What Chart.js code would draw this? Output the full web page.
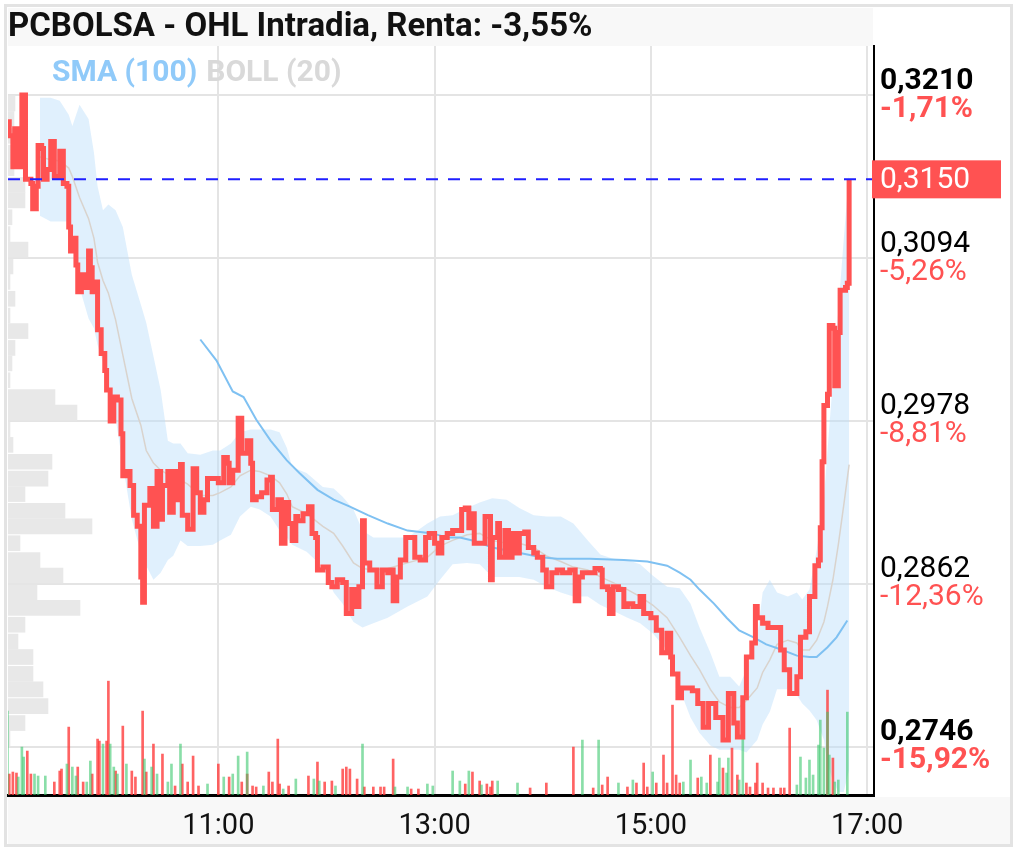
<!DOCTYPE html>
<html lang="es">
<head>
  <meta charset="UTF-8" />
  <title>PCBOLSA - OHL Intradia</title>
  <script src="https://cdn.jsdelivr.net/npm/chart.js"></script>
  <style>
    html, body { margin: 0; padding: 0; background: #fff; }
    #wrap { width: 1017px; height: 851px; }
  </style>
</head>
<body>
  <div id="wrap"><canvas id="ohlChart" width="1017" height="851"></canvas></div>

  <script>
    // times are minutes after 09:00
    const priceMin = [
      3, 4, 6, 7, 9, 11, 12, 13, 16, 17,
      19, 20, 22, 23, 25, 27, 28, 29, 32, 34,
      36, 37, 38, 39, 41, 42, 44, 46, 48, 49,
      50, 52, 53, 55, 57, 58, 60, 62, 64, 66,
      67, 69, 71, 73, 75, 77, 78, 79, 80, 82,
      84, 86, 88, 89, 92, 93, 95, 97, 99, 100,
      103, 105, 106, 108, 110, 112, 114, 117, 120, 123,
      125, 126, 128, 131, 133, 136, 138, 139, 141, 144,
      147, 149, 150, 153, 155, 157, 159, 161, 163, 164,
      167, 170, 172, 174, 175, 178, 181, 183, 186, 189,
      191, 194, 196, 198, 200, 201, 204, 208, 211, 214,
      215, 217, 219, 221, 224, 226, 229, 232, 235, 237,
      240, 242, 244, 247, 250, 252, 255, 257, 259, 261,
      262, 265, 268, 271, 272, 275, 276, 279, 281, 283,
      285, 287, 290, 292, 295, 297, 300, 302, 305, 308,
      311, 315, 318, 320, 322, 326, 329, 332, 333, 336,
      337, 339, 342, 345, 347, 350, 354, 356, 360, 363,
      366, 369, 371, 372, 375, 377, 380, 383, 386, 389,
      392, 396, 398, 400, 403, 406, 408, 411, 413, 416,
      418, 419, 422, 425, 428, 432, 434, 437, 441, 443,
      446, 448, 451, 453, 454, 455, 456, 458, 459, 461,
      462, 464, 465, 468, 469, 470
    ];
    const priceVal = [
      .3191, .3181, .3159, .3186, .3159, .3210, .3210, .3150, .3147, .3129,
      .3145, .3174, .3172, .3150, .3157, .3177, .3177, .3152, .3170, .3147,
      .3145, .3116, .3099, .3108, .3089, .3070, .3082, .3073, .3099, .3087,
      .3070, .3077, .3043, .3026, .3014, .3000, .2978, .2995, .2993, .2969,
      .2939, .2942, .2932, .2911, .2903, .2867, .2849, .2918, .2918, .2930,
      .2903, .2942, .2908, .2932, .2942, .2913, .2942, .2922, .2947, .2911,
      .2901, .2901, .2944, .2927, .2913, .2922, .2937, .2937, .2934, .2952,
      .2948, .2934, .2943, .2980, .2955, .2964, .2948, .2922, .2924, .2927,
      .2936, .2938, .2915, .2922, .2891, .2920, .2905, .2893, .2910, .2907,
      .2912, .2917, .2898, .2895, .2872, .2874, .2863, .2860, .2865, .2863,
      .2841, .2858, .2846, .2860, .2907, .2877, .2872, .2860, .2872, .2870,
      .2872, .2850, .2867, .2879, .2895, .2895, .2881, .2879, .2895, .2898,
      .2891, .2884, .2895, .2898, .2900, .2900, .2915, .2916, .2902, .2912,
      .2891, .2891, .2910, .2865, .2895, .2905, .2881, .2900, .2881, .2898,
      .2884, .2898, .2899, .2888, .2884, .2881, .2872, .2860, .2870, .2872,
      .2870, .2872, .2850, .2867, .2870, .2870, .2873, .2872, .2860, .2858,
      .2841, .2860, .2858, .2846, .2848, .2846, .2853, .2841, .2838, .2829,
      .2813, .2827, .2810, .2798, .2781, .2788, .2788, .2786, .2777, .2760,
      .2777, .2767, .2767, .2751, .2784, .2763, .2753, .2781, .2810, .2820,
      .2846, .2838, .2834, .2831, .2831, .2815, .2801, .2784, .2796, .2824,
      .2828, .2853, .2875, .2879, .2902, .2949, .2989, .2997, .3046, .3044,
      .3003, .3041, .3071, .3073, .3076, .3150
    ];
    const lastPrice = 0.3150;

    // Bollinger (20)
    const bandMin = [
      21, 27, 32, 37, 39, 43, 48, 51, 53, 56,
      59, 63, 67, 72, 77, 80, 84, 88, 92, 95,
      99, 103, 110, 117, 121, 127, 132, 138, 143, 149,
      154, 158, 161, 169, 178, 184, 189, 195, 200, 206,
      214, 225, 236, 243, 250, 258, 265, 272, 280, 287,
      295, 302, 310, 317, 325, 332, 339, 347, 354, 361,
      369, 376, 382, 387, 393, 398, 404, 409, 413, 419,
      422, 426, 430, 436, 441, 444, 448, 452, 456, 458,
      461, 464, 467, 470
    ];
    const bandUp = [
      .3208, .3208, .3206, .3196, .3188, .3203, .3193, .3169, .3145, .3128,
      .3132, .3128, .3116, .3082, .3061, .3048, .3024, .3000, .2964, .2962,
      .2962, .2955, .2954, .2957, .2957, .2962, .2970, .2972, .2972, .2972,
      .2970, .2959, .2945, .2941, .2931, .2930, .2924, .2915, .2900, .2895,
      .2895, .2895, .2905, .2910, .2911, .2916, .2920, .2923, .2922, .2916,
      .2911, .2910, .2910, .2905, .2893, .2883, .2880, .2879, .2876, .2868,
      .2860, .2859, .2848, .2831, .2813, .2796, .2796, .2789, .2801, .2824,
      .2856, .2865, .2856, .2853, .2856, .2851, .2858, .2886, .2922, .2957,
      .3007, .3057, .3107, .3155
    ];
    const bandLow = [
      .3124, .3120, .3120, .3120, .3117, .3073, .3051, .3044, .3032, .3020,
      .3004, .2980, .2947, .2908, .2884, .2875, .2865, .2870, .2879, .2882,
      .2893, .2889, .2889, .2890, .2893, .2897, .2910, .2917, .2915, .2910,
      .2900, .2895, .2890, .2885, .2874, .2856, .2848, .2835, .2831, .2834,
      .2838, .2846, .2853, .2865, .2876, .2877, .2876, .2867, .2867, .2867,
      .2865, .2860, .2856, .2853, .2853, .2847, .2843, .2838, .2834, .2827,
      .2815, .2787, .2767, .2756, .2747, .2744, .2744, .2744, .2742, .2751,
      .2762, .2771, .2787, .2787, .2783, .2777, .2772, .2765, .2751, .2734,
      .2722, .2714, .2714, .2730
    ];
    const bandMid = [
      .3166, .3164, .3163, .3158, .3152, .3137, .3122, .3108, .3091, .3078,
      .3069, .3050, .3025, .2994, .2975, .2957, .2948, .2943, .2940, .2938,
      .2936, .2933, .2925, .2925, .2927, .2931, .2939, .2943, .2942, .2939,
      .2934, .2926, .2917, .2912, .2903, .2898, .2889, .2877, .2873, .2872,
      .2873, .2877, .2881, .2889, .2893, .2897, .2898, .2893, .2891, .2891,
      .2888, .2882, .2878, .2874, .2872, .2867, .2863, .2858, .2853, .2847,
      .2838, .2824, .2811, .2801, .2787, .2778, .2774, .2774, .2779, .2788,
      .2799, .2808, .2819, .2822, .2820, .2815, .2815, .2822, .2835, .2846,
      .2865, .2890, .2918, .2947
    ];

    // SMA (100)
    const smaMin = [
      110, 119, 128, 134, 141, 149, 158, 165, 175, 184,
      193, 203, 214, 225, 239, 247, 254, 261, 272, 284,
      299, 308, 326, 345, 358, 369, 376, 382, 387, 395,
      402, 409, 417, 424, 433, 441, 448, 452, 458, 463,
      469
    ];
    const smaVal = [
      .3036, .3021, .2999, .2995, .2979, .2964, .2950, .2941, .2929, .2922,
      .2917, .2911, .2905, .2900, .2898, .2895, .2895, .2893, .2888, .2885,
      .2881, .2880, .2880, .2879, .2878, .2875, .2870, .2865, .2858, .2848,
      .2838, .2829, .2824, .2819, .2815, .2811, .2810, .2810, .2817, .2824,
      .2836
    ];

    // volume per minute (relative units)
    const volUpMin = [3, 9, 11, 12, 18, 20, 24, 36, 39, 41, 47, 49, 56, 60, 62, 64, 69, 79, 83, 86,
      92, 94, 99, 114, 123, 128, 131, 136, 145, 156, 163, 173, 176, 185, 200, 218, 225, 236, 239, 250,
      254, 259, 266, 275, 286, 322, 331, 342, 350, 361, 378, 382, 388, 391, 397, 398, 402, 403, 409, 411,
      441, 443, 446, 448, 450, 453, 454, 456, 458, 459, 462, 464, 469];
    const volUp = [84, 18, 48, 38, 21, 19, 19, 31, 28, 19, 13, 34, 51, 51, 28, 21, 31, 36, 28, 21,
      13, 31, 51, 11, 18, 21, 39, 43, 9, 6, 16, 16, 14, 9, 51, 8, 8, 11, 9, 24,
      14, 24, 10, 14, 12, 55, 55, 12, 15, 23, 13, 35, 18, 12, 13, 37, 22, 37, 15, 83,
      10, 38, 17, 35, 20, 50, 75, 47, 83, 40, 13, 15, 83];
    const volDownMin = [4, 6, 8, 14, 16, 29, 32, 33, 37, 42, 45, 50, 53, 54, 58, 59, 63, 67, 72, 74,
      78, 80, 84, 89, 96, 100, 103, 106, 109, 120, 126, 133, 136, 139, 141, 148, 150, 153, 154, 159,
      170, 175, 179, 183, 189, 191, 193, 197, 201, 206, 210, 212, 217, 227, 231, 257, 261, 265, 269, 271,
      272, 293, 302, 317, 328, 333, 336, 347, 352, 356, 358, 363, 367, 369, 372, 374, 376, 386, 393, 400,
      405, 408, 413, 415, 418, 419, 422, 425, 428, 432, 434, 437, 458, 461];
    const volDown = [21, 23, 22, 44, 21, 13, 24, 26, 68, 28, 13, 21, 56, 54, 54, 114, 24, 69, 24, 18,
      84, 23, 51, 41, 9, 31, 13, 39, 9, 31, 18, 13, 21, 9, 8, 23, 13, 56, 11, 9,
      19, 33, 13, 14, 26, 28, 26, 16, 8, 8, 8, 8, 36, 6, 6, 11, 23, 14, 11, 8,
      14, 7, 12, 48, 7, 10, 18, 8, 12, 32, 8, 12, 40, 12, 90, 20, 12, 17, 40, 27,
      47, 20, 12, 8, 12, 32, 12, 7, 7, 7, 7, 67, 105, 37];

    // volume profile by price level
    const profileLevel = [
      .3204, .3193, .3181, .3169, .3158, .3146, .3135, .3123, .3111, .3100,
      .3088, .3077, .3065, .3053, .3042, .3030, .3019, .3007, .2995, .2984,
      .2972, .2961, .2949, .2937, .2926, .2914, .2903, .2891, .2879, .2868,
      .2856, .2845, .2833, .2821, .2810, .2798, .2787, .2775, .2763, .2752
    ];
    const profileVol = [
      7, 6, 5, 4, 6, 17, 17, 4, 2, 20,
      5, 2, 7, 2, 20, 7, 4, 2, 47, 69,
      2, 5, 44, 40, 17, 57, 84, 12, 32, 55,
      29, 72, 17, 10, 25, 25, 35, 40, 17, 2
    ];

    const priceTicks = [0.2746, 0.2862, 0.2978, 0.3094, 0.3210];
    const pctLabels = ['-15,92%', '-12,36%', '-8,81%', '-5,26%', '-1,71%'];
    const xTickMin = [120, 240, 360, 480];
    const xTickLabels = ['11:00', '13:00', '15:00', '17:00'];

    const xMin = 3.3, xMax = 483.8;
    const yMin = 0.27118, yMax = 0.32449;

    const pts = (xs, ys) => xs.map((x, i) => ({ x: x, y: ys[i] }));
    const fmt = v => v.toFixed(4).replace('.', ',');
    const isEdge = i => i === 0 || i === priceTicks.length - 1;

    const backdrop = {
      id: 'backdrop',
      beforeDraw(chart) {
        const ctx = chart.ctx;
        ctx.save();
        ctx.fillStyle = '#fff';
        ctx.fillRect(0, 0, chart.width, chart.height);
        ctx.fillStyle = '#f8f8f8';
        ctx.fillRect(8, 8, 865, 38);
        ctx.fillRect(8, 797, 1002, 47);
        ctx.strokeStyle = '#e3e3e3';
        ctx.lineWidth = 3;
        ctx.strokeRect(5.5, 5.5, 1006, 840);
        ctx.restore();
      }
    };

    const legendText = {
      id: 'legendText',
      afterDatasetsDraw(chart) {
        const ctx = chart.ctx;
        const a = chart.chartArea;
        const items = [
          { text: chart.data.datasets[6].label, color: '#90caf9' },
          { text: chart.data.datasets[5].label, color: '#d9d9d9' }
        ];
        ctx.save();
        ctx.font = 'bold 30px Roboto';
        ctx.textBaseline = 'middle';
        let x = a.left + 44;
        items.forEach(it => {
          ctx.fillStyle = it.color;
          ctx.fillText(it.text, x, a.top + 27);
          x += ctx.measureText(it.text).width + 9;
        });
        ctx.restore();
      }
    };

    // percent change under each price label, plus the last-price tag
    const axisExtras = {
      id: 'axisExtras',
      afterDraw(chart) {
        const ctx = chart.ctx;
        const ys = chart.scales.y;
        const x0 = chart.chartArea.right;
        ctx.save();
        ctx.textBaseline = 'middle';
        ctx.textAlign = 'left';
        ctx.fillStyle = '#ff5252';
        priceTicks.forEach((v, i) => {
          ctx.font = (isEdge(i) ? 'bold ' : '') + '30px Roboto';
          ctx.fillText(pctLabels[i], x0 + 6, ys.getPixelForValue(v) + 14);
        });
        const y = ys.getPixelForValue(lastPrice);
        ctx.fillRect(x0 - 2, y - 19, 1001 - x0 + 2, 38);
        ctx.fillStyle = '#fff';
        ctx.font = '30px Roboto';
        ctx.fillText(fmt(lastPrice), x0 + 6, y + 1);
        ctx.restore();
      }
    };

    new Chart(document.getElementById('ohlChart').getContext('2d'), {
      type: 'line',
      data: {
        datasets: [
          {
            type: 'bar', label: 'Perfil', indexAxis: 'y', xAxisID: 'xProf', yAxisID: 'y',
            data: pts(profileVol, profileLevel),
            backgroundColor: '#e8e8e8', barThickness: 15, grouped: false, order: 10
          },
          {
            label: 'BOLL sup', data: pts(bandMin, bandUp), borderWidth: 0,
            pointRadius: 0, fill: '+1', backgroundColor: 'rgba(187,222,251,0.45)', order: 9
          },
          {
            label: 'BOLL inf', data: pts(bandMin, bandLow), borderWidth: 0,
            pointRadius: 0, fill: false, order: 8
          },
          {
            type: 'bar', label: 'Vol +', yAxisID: 'yVol', data: pts(volUpMin, volUp),
            backgroundColor: 'rgba(60,200,110,0.6)', barThickness: 2, grouped: false, order: 7
          },
          {
            type: 'bar', label: 'Vol -', yAxisID: 'yVol', data: pts(volDownMin, volDown),
            backgroundColor: 'rgba(255,60,60,0.8)', barThickness: 2, grouped: false, order: 7
          },
          {
            label: 'BOLL (20)', data: pts(bandMin, bandMid), borderColor: '#d9d3cd',
            borderWidth: 1.5, pointRadius: 0, order: 6
          },
          {
            label: 'SMA (100)', data: pts(smaMin, smaVal), borderColor: '#7fc1f2',
            borderWidth: 2, pointRadius: 0, order: 5
          },
          {
            label: 'OHL', data: pts(priceMin, priceVal), borderColor: '#ff5252',
            borderWidth: 5, pointRadius: 0, stepped: true, order: 2
          },
          {
            label: 'Ultimo', data: [{ x: xMin, y: lastPrice }, { x: xMax, y: lastPrice }],
            borderColor: '#1f1fff', borderDash: [12, 10], borderWidth: 2, pointRadius: 0, order: 1
          }
        ]
      },
      options: {
        responsive: false,
        devicePixelRatio: 1,
        animation: false,
        events: [],
        layout: { padding: { left: 8, right: 7, top: 10, bottom: 6 } },
        elements: { line: { tension: 0 } },
        plugins: {
          legend: { display: false },
          tooltip: { enabled: false },
          title: {
            display: true,
            align: 'start',
            text: 'PCBOLSA - OHL Intradia, Renta: -3,55%',
            color: '#111',
            font: { family: 'Roboto', size: 33, weight: 'bold', lineHeight: 1 },
            padding: { top: 1, bottom: 2 }
          }
        },
        scales: {
          x: {
            type: 'linear', position: 'bottom', min: xMin, max: xMax, offset: false,
            afterBuildTicks: s => { s.ticks = xTickMin.map(v => ({ value: v })); },
            afterFit: s => { s.height = 50; },
            ticks: {
              autoSkip: false, maxRotation: 0, padding: 14, color: '#111',
              font: { family: 'Roboto', size: 29 },
              callback: (v, i) => xTickLabels[i]
            },
            grid: { color: '#e4e4e4', lineWidth: 2, drawTicks: false, offset: false },
            border: { display: true, color: '#000', width: 3 }
          },
          y: {
            type: 'linear', position: 'right', min: yMin, max: yMax, offset: false,
            afterBuildTicks: s => { s.ticks = priceTicks.map(v => ({ value: v })); },
            afterFit: s => { s.width = 136; },
            ticks: {
              autoSkip: false, color: '#000', padding: 6, labelOffset: -14,
              font: c => ({ family: 'Roboto', size: 30, weight: isEdge(c.index) ? 'bold' : 'normal' }),
              callback: v => fmt(v)
            },
            grid: { color: '#e4e4e4', lineWidth: 2, drawTicks: false, offset: false },
            border: { display: true, color: '#000', width: 2 }
          },
          yVol: { type: 'linear', display: false, min: 0, max: 750 },
          xProf: { type: 'linear', display: false, min: 0, max: 866 }
        }
      },
      plugins: [backdrop, legendText, axisExtras]
    });
  </script>
</body>
</html>
